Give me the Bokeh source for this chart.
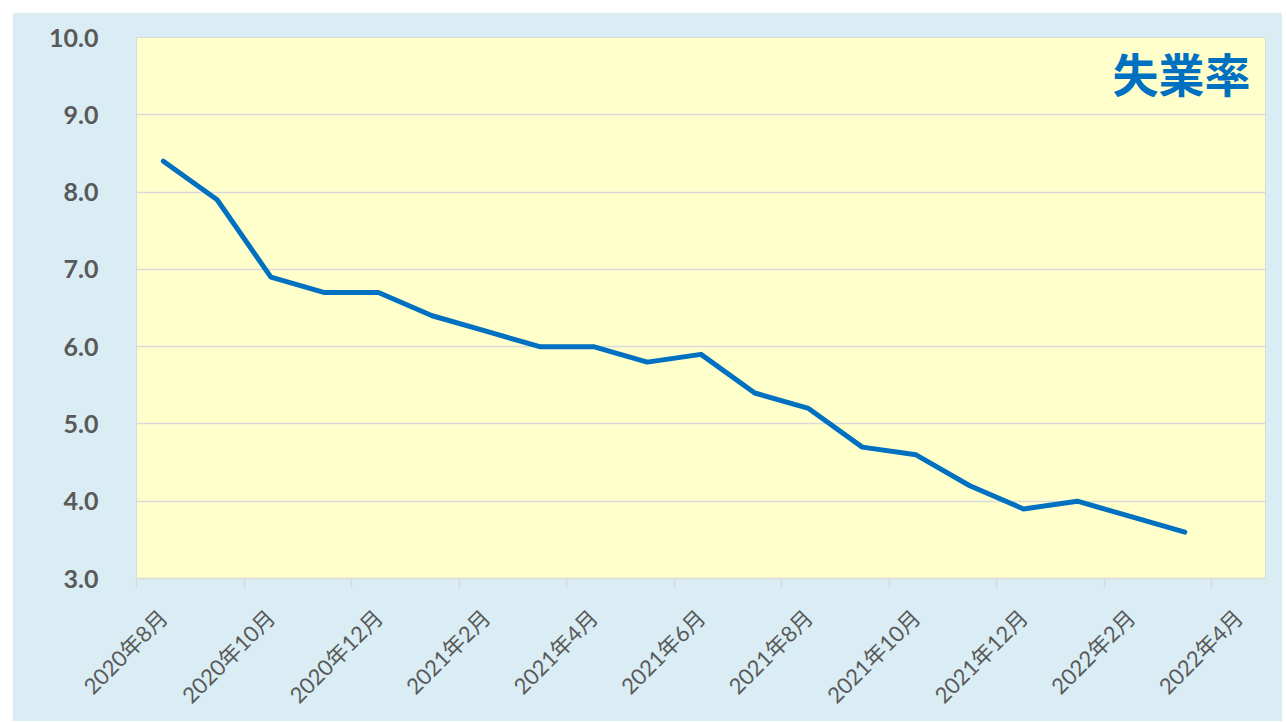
import math
from bokeh.plotting import figure
from bokeh.models import Range1d, FixedTicker, Label
from bokeh.embed import file_html
from bokeh.resources import INLINE

# Data
months = ["2020-08", "2020-09", "2020-10", "2020-11", "2020-12",
          "2021-01", "2021-02", "2021-03", "2021-04", "2021-05", "2021-06",
          "2021-07", "2021-08", "2021-09", "2021-10", "2021-11", "2021-12",
          "2022-01", "2022-02", "2022-03"]
rate = [8.4, 7.9, 6.9, 6.7, 6.7, 6.4, 6.2, 6.0, 6.0, 5.8, 5.9,
        5.4, 5.2, 4.7, 4.6, 4.2, 3.9, 4.0, 3.8, 3.6]
tick_labels = ["2020年8月", "2020年10月", "2020年12月", "2021年2月", "2021年4月",
               "2021年6月", "2021年8月", "2021年10月", "2021年12月", "2022年2月", "2022年4月"]
title_text = "失業率"

n_months = len(months) + 1  # axis spans through 2022年4月
x_idx = list(range(len(months)))
tick_pos = [-0.5 + 2 * i for i in range(len(tick_labels))]
label_pos = [t + 0.5 for t in tick_pos]

BG = "#DAEDF4"
PLOT_BG = "#FFFFCC"
GRID = "#D9D9D9"
LINE = "#0070C0"
TXT = "#595959"

p = figure(width=1270, height=709, output_backend="svg", toolbar_location=None,
           x_range=Range1d(-0.5, n_months - 0.5), y_range=Range1d(3.0, 10.0),
           min_border_left=124, min_border_right=17, min_border_top=25,
           min_border_bottom=143)
p.margin = (12, 0, 0, 12)
p.background_fill_color = PLOT_BG
p.border_fill_color = BG
p.outline_line_color = GRID
p.outline_line_width = 1

p.line(x_idx, rate, line_color=LINE, line_width=5, line_join="round", line_cap="round")

# y axis
p.yaxis.ticker = FixedTicker(ticks=[3, 4, 5, 6, 7, 8, 9, 10])
p.yaxis.major_label_overrides = {v: f"{v:.1f}" for v in range(3, 11)}
p.yaxis.axis_line_color = None
p.yaxis.major_tick_line_color = None
p.yaxis.minor_tick_line_color = None
p.yaxis.major_label_text_font = "Lato, Noto Sans CJK JP"
p.yaxis.major_label_text_font_style = "bold"
p.yaxis.major_label_text_font_size = "25px"
p.yaxis.major_label_text_color = TXT
p.yaxis.major_label_standoff = 32

# x axis: labels centred half a month right, tick marks (minor) at boundaries
p.xaxis.ticker = FixedTicker(ticks=label_pos, minor_ticks=tick_pos)
p.xaxis.major_label_overrides = {t: l for t, l in zip(label_pos, tick_labels)}
p.xaxis.major_label_orientation = math.pi / 4
p.xaxis.axis_line_color = GRID
p.xaxis.axis_line_width = 1.5
p.xaxis.major_tick_line_color = None
p.xaxis.major_tick_out = 0
p.xaxis.major_tick_in = 0
p.xaxis.minor_tick_line_color = GRID
p.xaxis.minor_tick_line_width = 1.5
p.xaxis.minor_tick_out = 10
p.xaxis.minor_tick_in = 0
p.xaxis.major_label_text_font = "Lato, Noto Sans CJK JP"
p.xaxis.major_label_text_font_size = "22px"
p.xaxis.major_label_text_color = TXT
p.xaxis.major_label_standoff = 25

p.xgrid.grid_line_color = None
p.ygrid.grid_line_color = GRID
p.ygrid.grid_line_width = 1.5

title = Label(x=n_months - 0.5, y=10.0, x_offset=-15, y_offset=-1,
              text=title_text, text_align="right", text_baseline="top",
              text_font="Noto Sans CJK JP", text_font_style="bold",
              text_font_size="46px", text_color=LINE)
p.add_layout(title)

open("out.html", "w").write(file_html(p, INLINE))
